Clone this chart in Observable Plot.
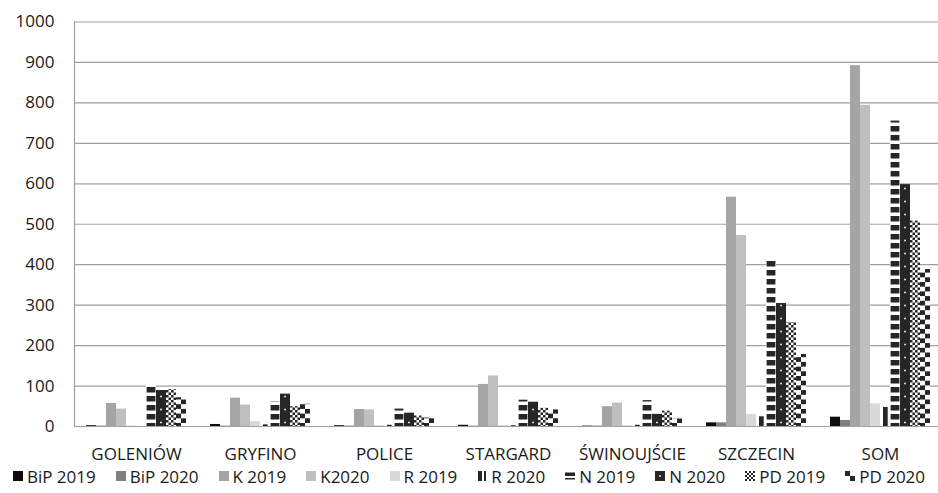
<!DOCTYPE html>
<html>
<head>
<meta charset="utf-8">
<script src="https://cdn.jsdelivr.net/npm/d3@7"></script>
<script src="https://cdn.jsdelivr.net/npm/@observablehq/plot@0.6"></script>
<style>
  body { margin: 0; background: #fff; overflow: hidden; font-family: "Open Sans", sans-serif; }
  #legend { display: flex; justify-content: center; align-items: center; height: 20px; margin-top: 0;
            font-size: 17px; color: #1a1a1a; white-space: nowrap; }
  .item { display: flex; align-items: center; margin: 0 10px; }
  .item svg { margin-right: 4px; }
</style>
</head>
<body>
<svg width="0" height="0" style="position:absolute"><defs id="defs"></defs></svg>
<div id="chart"></div>
<div id="legend"></div>
<script>
// Counties of the region and the totals column (SOM)
const categories = ["GOLENIÓW", "GRYFINO", "POLICE", "STARGARD", "ŚWINOUJŚCIE", "SZCZECIN", "SOM"];
const seriesNames = ["BiP 2019", "BiP 2020", "K 2019", "K2020", "R 2019", "R 2020", "N 2019", "N 2020", "PD 2019", "PD 2020"];

const bip2019 = [2, 5, 2, 3, 1, 9, 23];
const bip2020 = [1, 1, 1, 1, 1, 9, 15];
const k2019   = [57, 70, 42, 104, 49, 567, 892];
const k2020   = [43, 53, 41, 125, 58, 472, 794];
const r2019   = [1, 12, 2, 2, 2, 30, 56];
const r2020   = [0, 4, 3, 2, 3, 24, 47];
const n2019   = [103, 61, 43, 65, 64, 414, 755];
const n2020   = [89, 80, 33, 60, 30, 304, 598];
const pd2019  = [91, 49, 26, 45, 38, 257, 508];
const pd2020  = [71, 55, 21, 41, 19, 178, 388];

const yTicks = [0, 100, 200, 300, 400, 500, 600, 700, 800, 900, 1000];

const seriesValues = [bip2019, bip2020, k2019, k2020, r2019, r2020, n2019, n2020, pd2019, pd2020];
const rows = [];
seriesNames.forEach((s, i) => categories.forEach((c, j) => rows.push({category: c, series: s, value: seriesValues[i][j]})));

const dark = "#262626";
const barFills = ["#0d0d0d", "#7f7f7f", "#a5a5a5", "#bfbfbf", "#d9d9d9",
  "url(#p-r2020)", "url(#p-n2019)", "url(#p-n2020)", "url(#p-pd2019)", "url(#p-pd2020)"];
const legendFills = ["#0d0d0d", "#7f7f7f", "#a5a5a5", "#bfbfbf", "#d9d9d9",
  "url(#l-r2020)", "url(#l-n2019)", "url(#l-n2020)", "url(#l-pd2019)", "url(#l-pd2020)"];

const grid = "#a0a0a0";

const chart = Plot.plot({
  width: 938,
  height: 466,
  marginLeft: 73,
  marginRight: -5,
  marginTop: 21.5,
  marginBottom: 40,
  style: {fontFamily: "'Open Sans', sans-serif", fontSize: "17px", color: "#1a1a1a", background: "#fff", overflow: "hidden"},
  fx: {domain: categories, padding: 0, label: null, axis: "bottom", tickSize: 0, tickPadding: 21},
  x: {domain: seriesNames, paddingInner: 0, paddingOuter: 0.86, axis: null},
  y: {domain: [0, 1000], ticks: yTicks, tickFormat: d => String(d), tickSize: 0, tickPadding: 20, label: null},
  color: {type: "ordinal", domain: seriesNames, range: barFills},
  marks: [
    Plot.gridY(yTicks, {stroke: grid, strokeOpacity: 1, strokeWidth: 1.2}),
    Plot.frame({anchor: "left", facetAnchor: "left", stroke: grid, strokeWidth: 1.2}),
    Plot.barY(rows, {fx: "category", x: "series", y: "value", fill: "series"}),
    Plot.ruleY([0], {stroke: grid, strokeWidth: 1.2})
  ]
});
document.getElementById("chart").appendChild(chart);

// Hatch patterns, aligned to the bar columns inside each facet
const sample = chart.querySelector('rect[fill="url(#p-n2020)"]');
const bx = sample ? +sample.getAttribute("x") : 0;
const bw = sample ? +sample.getAttribute("width") : 10.6;
const h = bw / 2, q = bw / 4;
document.getElementById("defs").innerHTML = `
<pattern id="p-r2020" patternUnits="userSpaceOnUse" x="${bx}" y="0" width="${bw}" height="8">
  <rect width="${bw}" height="8" fill="#fff"/><rect x="${bw * 0.3}" width="${bw * 0.47}" height="8" fill="${dark}"/></pattern>
<pattern id="p-n2019" patternUnits="userSpaceOnUse" x="${bx}" y="0" width="${bw}" height="9">
  <rect width="${bw}" height="9" fill="#fff"/><rect x="0.6" width="${bw - 1.2}" height="5.5" fill="${dark}"/></pattern>
<pattern id="p-n2020" patternUnits="userSpaceOnUse" x="${bx}" y="0" width="${bw}" height="13">
  <rect width="${bw}" height="13" fill="${dark}"/><rect x="${h - 0.8}" y="5.7" width="1.6" height="1.6" fill="#fff"/></pattern>
<pattern id="p-pd2019" patternUnits="userSpaceOnUse" x="${bx}" y="0" width="${h}" height="${h}">
  <rect width="${h}" height="${h}" fill="#fff"/><rect width="${q}" height="${q}" fill="${dark}"/><rect x="${q}" y="${q}" width="${q}" height="${q}" fill="${dark}"/></pattern>
<pattern id="p-pd2020" patternUnits="userSpaceOnUse" x="${bx}" y="0" width="${bw}" height="9.4">
  <rect width="${bw}" height="9.4" fill="#fff"/><rect width="${h}" height="4.7" fill="${dark}"/><rect x="${h}" y="4.7" width="${h}" height="4.7" fill="${dark}"/></pattern>
<pattern id="l-r2020" patternUnits="userSpaceOnUse" width="10" height="10">
  <rect width="10" height="10" fill="#fff"/><rect x="1" width="4" height="10" fill="${dark}"/><rect x="7" width="2" height="10" fill="${dark}"/></pattern>
<pattern id="l-n2019" patternUnits="userSpaceOnUse" width="10" height="10">
  <rect width="10" height="10" fill="#fff"/><rect y="1.5" width="10" height="3.5" fill="${dark}"/><rect y="7" width="10" height="1.5" fill="${dark}"/></pattern>
<pattern id="l-n2020" patternUnits="userSpaceOnUse" width="10" height="10">
  <rect width="10" height="10" fill="${dark}"/><rect x="4.2" y="4.2" width="1.6" height="1.6" fill="#fff"/></pattern>
<pattern id="l-pd2019" patternUnits="userSpaceOnUse" width="4" height="4">
  <rect width="4" height="4" fill="#fff"/><rect width="2" height="2" fill="${dark}"/><rect x="2" y="2" width="2" height="2" fill="${dark}"/></pattern>
<pattern id="l-pd2020" patternUnits="userSpaceOnUse" width="10" height="10">
  <rect width="10" height="10" fill="#fff"/><rect width="5" height="5" fill="${dark}"/><rect x="5" y="5" width="5" height="5" fill="${dark}"/></pattern>`;

// Legend row below the plot
const legend = d3.select("#legend");
seriesNames.forEach((s, i) => {
  const item = legend.append("span").attr("class", "item");
  const sw = item.append("svg").attr("width", 10).attr("height", 10);
  sw.append("rect").attr("width", 10).attr("height", 10).attr("fill", legendFills[i]);
  item.append("span").text(s);
});
</script>
</body>
</html>
